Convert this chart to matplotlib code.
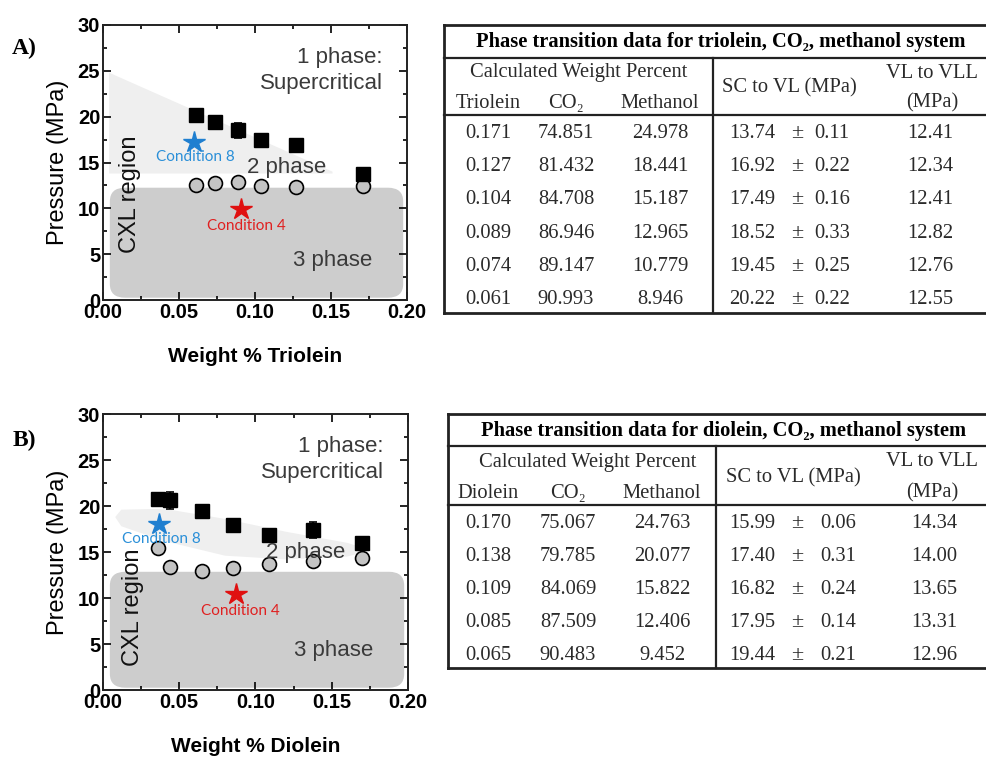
import matplotlib
matplotlib.use("Agg")
import matplotlib.pyplot as plt
from matplotlib.patches import FancyBboxPatch, Polygon
from matplotlib.lines import Line2D

# --- Data -------------------------------------------------------------------
# Panel A (triolein)
tri_x = [0.061, 0.074, 0.089, 0.104, 0.127, 0.171]
tri_sc = [20.22, 19.45, 18.52, 17.49, 16.92, 13.74]
tri_sc_err = [0.45, 0.45, 0.8, 0.3, 0.45, 0.3]
tri_vll = [12.55, 12.76, 12.82, 12.41, 12.34, 12.41]
tri_cond8 = (0.060, 17.2)
tri_cond4 = (0.091, 9.9)

# Panel B (diolein)
dio_x = [0.036, 0.044, 0.065, 0.085, 0.109, 0.138, 0.170]
dio_sc = [20.8, 20.6, 19.44, 17.95, 16.82, 17.40, 15.99]
dio_sc_err = [0.35, 0.95, 0.3, 0.2, 0.45, 0.85, 0.2]
dio_vll = [15.4, 13.4, 12.96, 13.31, 13.65, 14.00, 14.34]
dio_cond8 = (0.037, 18.0)
dio_cond4 = (0.087, 10.4)

# Tables
tri_table = [
    ["0.171", "74.851", "24.978", "13.74", "0.11", "12.41"],
    ["0.127", "81.432", "18.441", "16.92", "0.22", "12.34"],
    ["0.104", "84.708", "15.187", "17.49", "0.16", "12.41"],
    ["0.089", "86.946", "12.965", "18.52", "0.33", "12.82"],
    ["0.074", "89.147", "10.779", "19.45", "0.25", "12.76"],
    ["0.061", "90.993", "8.946", "20.22", "0.22", "12.55"],
]
dio_table = [
    ["0.170", "75.067", "24.763", "15.99", "0.06", "14.34"],
    ["0.138", "79.785", "20.077", "17.40", "0.31", "14.00"],
    ["0.109", "84.069", "15.822", "16.82", "0.24", "13.65"],
    ["0.085", "87.509", "12.406", "17.95", "0.14", "13.31"],
    ["0.065", "90.483", "9.452", "19.44", "0.21", "12.96"],
]

W, H = 987, 757
SANS = ["Liberation Sans", "DejaVu Sans"]
SERIF = ["Liberation Serif", "DejaVu Serif"]
TXT = "#3a3a3a"


def fx(px):
    return px / W


def fy(py):
    return 1 - py / H


# --- Plot panels ------------------------------------------------------------
def draw_panel(ax, xs, sc, err, vll, cond8, cond4, light_poly, rect_top,
               xlabel, cxl_pos, two_pos):
    ax.set_xlim(0, 0.2)
    ax.set_ylim(0, 30)
    ax.add_patch(Polygon(light_poly, closed=True, facecolor="#efefef",
                         edgecolor="none", zorder=0))
    ax.add_patch(FancyBboxPatch((0.0095, 1.0), 0.183, rect_top - 1.8,
                                boxstyle="round,pad=0.005,rounding_size=0.01",
                                mutation_aspect=150, facecolor="#cdcdcd",
                                edgecolor="none", zorder=0))
    ax.errorbar(xs, sc, yerr=err, fmt="s", color="black", ms=10, capsize=3,
                elinewidth=1.2, capthick=1.2, zorder=3)
    ax.plot(xs, vll, "o", ms=10, mfc="#c4c4c4", mec="black", mew=1.2, zorder=3)

    ax.plot(*cond8, "*", color="#1f7fd0", ms=16, zorder=4)
    ax.text(cond8[0] + 0.001, cond8[1] - 1.6, "Condition 8", color="#2a8fd8",
            family=["Lato", "DejaVu Sans"], fontsize=11, ha="center", va="center")
    ax.plot(*cond4, "*", color="#e01010", ms=16, zorder=4)
    ax.text(cond4[0] + 0.003, cond4[1] - 1.8, "Condition 4", color="#e02020",
            family=["Lato", "DejaVu Sans"], fontsize=11, ha="center", va="center")

    ax.text(0.184, 26.5, "1 phase:", ha="right", va="center", fontsize=16,
            color=TXT, family=SANS)
    ax.text(0.184, 23.6, "Supercritical", ha="right", va="center", fontsize=16,
            color=TXT, family=SANS)
    ax.text(two_pos[0], two_pos[1], "2 phase", ha="center", va="center",
            fontsize=16, color=TXT, family=SANS, zorder=5)
    ax.text(0.151, 4.3, "3 phase", ha="center", va="center", fontsize=16,
            color=TXT, family=SANS)
    ax.text(cxl_pos[0], cxl_pos[1], "CXL region", rotation=90, ha="center",
            va="center", fontsize=17, color="#111111", family=SANS)

    ax.set_xticks([0.0, 0.05, 0.10, 0.15, 0.20])
    ax.set_xticklabels(["0.00", "0.05", "0.10", "0.15", "0.20"])
    ax.set_yticks([0, 5, 10, 15, 20, 25, 30])
    ax.set_xticks([0.025, 0.075, 0.125, 0.175], minor=True)
    ax.set_yticks([2.5, 7.5, 12.5, 17.5, 22.5, 27.5], minor=True)
    ax.tick_params(which="both", direction="in", top=True, right=True,
                   width=1.2, labelsize=14.5, pad=2)
    ax.tick_params(which="major", length=6)
    ax.tick_params(which="minor", length=3)
    for lab in ax.get_xticklabels() + ax.get_yticklabels():
        lab.set_fontweight("bold")
        lab.set_family(SANS)
    for sp in ax.spines.values():
        sp.set_linewidth(1.4)
        sp.set_color("#222222")
    ax.set_ylabel("Pressure (MPa)", fontsize=17, family=SANS, labelpad=6)
    ax.set_xlabel(xlabel, fontsize=15, fontweight="bold", family=SANS,
                  labelpad=18)


fig = plt.figure(figsize=(W / 100, H / 100), dpi=100)

axA = fig.add_axes([fx(103), fy(300), fx(304), 275 / H])
draw_panel(axA, tri_x, tri_sc, tri_sc_err, tri_vll, tri_cond8, tri_cond4,
           [(0.004, 24.8), (0.151, 14.0), (0.151, 13.8), (0.004, 13.8)],
           12.3, "Weight % Triolein", (0.018, 11.5), (0.121, 14.5))

axB = fig.add_axes([fx(103), fy(690), fx(305), 276 / H])
draw_panel(axB, dio_x, dio_sc, dio_sc_err, dio_vll, dio_cond8, dio_cond4,
           [(0.012, 19.6), (0.04, 19.7), (0.08, 18.6), (0.12, 17.2),
            (0.16, 16.0), (0.176, 15.2), (0.16, 14.5), (0.12, 14.2),
            (0.08, 14.6), (0.04, 16.2), (0.012, 17.8), (0.008, 18.8)],
           12.9, "Weight % Diolein", (0.0195, 9.0), (0.133, 14.9))

fig.text(fx(12), fy(48), "A)", fontsize=17, fontweight="bold", family=SERIF,
         va="center")
fig.text(fx(13), fy(440), "B)", fontsize=17, fontweight="bold", family=SERIF,
         va="center")


# --- Tables -----------------------------------------------------------------
def draw_table(rows, name, left, top, title_line, head_line, bottom, divider,
               row_y0, row_dy, cols, head):
    right = W + 5
    def hline(y, lw):
        fig.add_artist(Line2D([fx(left), fx(right)], [fy(y), fy(y)],
                              color="#222222", lw=lw))
    def vline(x, y0, y1, lw):
        fig.add_artist(Line2D([fx(x), fx(x)], [fy(y0), fy(y1)],
                              color="#222222", lw=lw))
    hline(top, 2.0)
    hline(title_line, 1.6)
    hline(head_line, 1.6)
    hline(bottom, 2.0)
    vline(left, top, bottom, 2.0)
    vline(divider, title_line, bottom, 1.6)

    def t(x, y, s, **kw):
        kw.setdefault("fontsize", 14.8)
        kw.setdefault("color", "#2a2a2a")
        fig.text(fx(x), fy(y), s, ha="center", va="center", family=SERIF, **kw)

    t(head["title_x"], (top + title_line) / 2 + 1,
      f"Phase transition data for {name}, CO\u2082, methanol system",
      fontsize=14.8, fontweight="bold", color="black")
    y1, y2 = head["y1"], head["y2"]
    t(head["calc_x"], y1, "Calculated Weight Percent")
    t(cols[0], y2, name.capitalize())
    t(cols[1], y2, "CO\u2082")
    t(cols[2], y2, "Methanol")
    t(head["sc_x"], (y1 + y2) / 2, "SC to VL (MPa)")
    t(head["vl_x"], y1, "VL to VLL")
    t(head["vl_x"], y2, "(MPa)")
    for i, r in enumerate(rows):
        y = row_y0 + i * row_dy
        t(cols[0], y, r[0])
        t(cols[1], y, r[1])
        t(cols[2], y, r[2])
        t(cols[3], y, r[3])
        t(cols[4], y, "\u00b1", fontsize=16)
        t(cols[5], y, r[4])
        t(cols[6], y, r[5])


draw_table(tri_table, "triolein", 444, 25, 58, 115, 313, 713, 133, 33.4,
           [488, 566, 660, 752, 797, 832, 930],
           dict(title_x=721, y1=73, y2=103, calc_x=579, sc_x=789, vl_x=932))
draw_table(dio_table, "diolein", 448, 414, 446, 505, 668, 716, 523, 33.2,
           [488, 568, 662, 752, 797, 838, 934],
           dict(title_x=724, y1=462, y2=493, calc_x=588, sc_x=793, vl_x=932))

fig.savefig("out.png", dpi=100)
